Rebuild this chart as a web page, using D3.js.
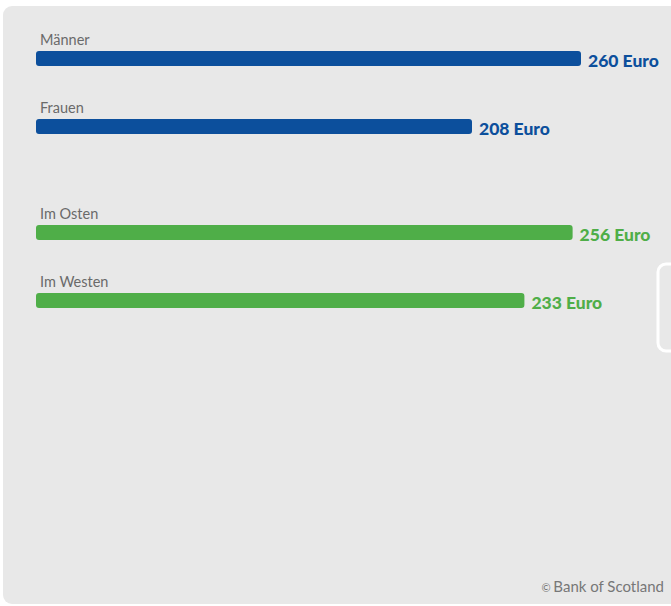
<!DOCTYPE html>
<html>
<head>
<meta charset="utf-8">
<script src="https://cdn.jsdelivr.net/npm/d3@7"></script>
<style>
  html, body { margin: 0; padding: 0; background: #ffffff; }
  svg { display: block; }
</style>
</head>
<body>
<svg id="chart" width="671" height="606"></svg>
<script>
// Monthly spending by group (Euro)
const categories = ["Männer", "Frauen", "Im Osten", "Im Westen"];
const values = [260, 208, 256, 233];
const groups = ["gender", "gender", "region", "region"];
const valueSuffix = " Euro";
const credit = "Bank of Scotland";

const colors = { gender: "#0c4f9c", region: "#4fae48" };

const svg = d3.select("#chart");
const W = 671, H = 606;

// Panel background
svg.append("rect")
  .attr("x", 3).attr("y", 6)
  .attr("width", W + 20).attr("height", H - 8)
  .attr("rx", 9).attr("ry", 9)
  .attr("fill", "#e8e8e8");

// Horizontal scale: value -> bar length
const x = d3.scaleLinear().domain([0, 260]).range([36, 581]);

// Row positions (bar tops)
const rowY = d3.scaleOrdinal().domain(categories).range([51, 119, 225, 293]);
const barH = 15;

const rows = svg.selectAll("g.row")
  .data(categories.map((c, i) => ({ cat: c, val: values[i], group: groups[i] })))
  .join("g").attr("class", "row")
  .attr("transform", d => `translate(0,${rowY(d.cat)})`);

rows.append("text")
  .attr("x", 40).attr("y", -6)
  .attr("font-family", "Lato, 'Open Sans', sans-serif")
  .attr("font-size", 14.5)
  .attr("fill", "#6a6a6a")
  .text(d => d.cat);

rows.append("rect")
  .attr("x", x(0)).attr("y", 0)
  .attr("width", d => x(d.val) - x(0))
  .attr("height", barH)
  .attr("rx", 3).attr("ry", 3)
  .attr("fill", d => colors[d.group]);

rows.append("text")
  .attr("x", d => x(d.val) + 7)
  .attr("y", barH + 1)
  .attr("font-family", "Lato, 'Open Sans', sans-serif")
  .attr("font-weight", 900)
  .attr("font-size", 17.5)
  .attr("fill", d => colors[d.group])
  .text(d => d.val + valueSuffix);

// Scroll handle on the right edge
svg.append("rect")
  .attr("x", 658).attr("y", 264)
  .attr("width", 30).attr("height", 87)
  .attr("rx", 8).attr("ry", 8)
  .attr("fill", "none")
  .attr("stroke", "#ffffff")
  .attr("stroke-width", 3);

// Credit line
const cr = svg.append("text")
  .attr("x", 664).attr("y", 592)
  .attr("text-anchor", "end")
  .attr("font-family", "Lato, 'Open Sans', sans-serif")
  .attr("fill", "#777777");
cr.append("tspan").attr("font-size", 11).attr("dy", -0.5).text("© ");
cr.append("tspan").attr("font-size", 15).attr("dy", 0.5).text(credit);
</script>
</body>
</html>
